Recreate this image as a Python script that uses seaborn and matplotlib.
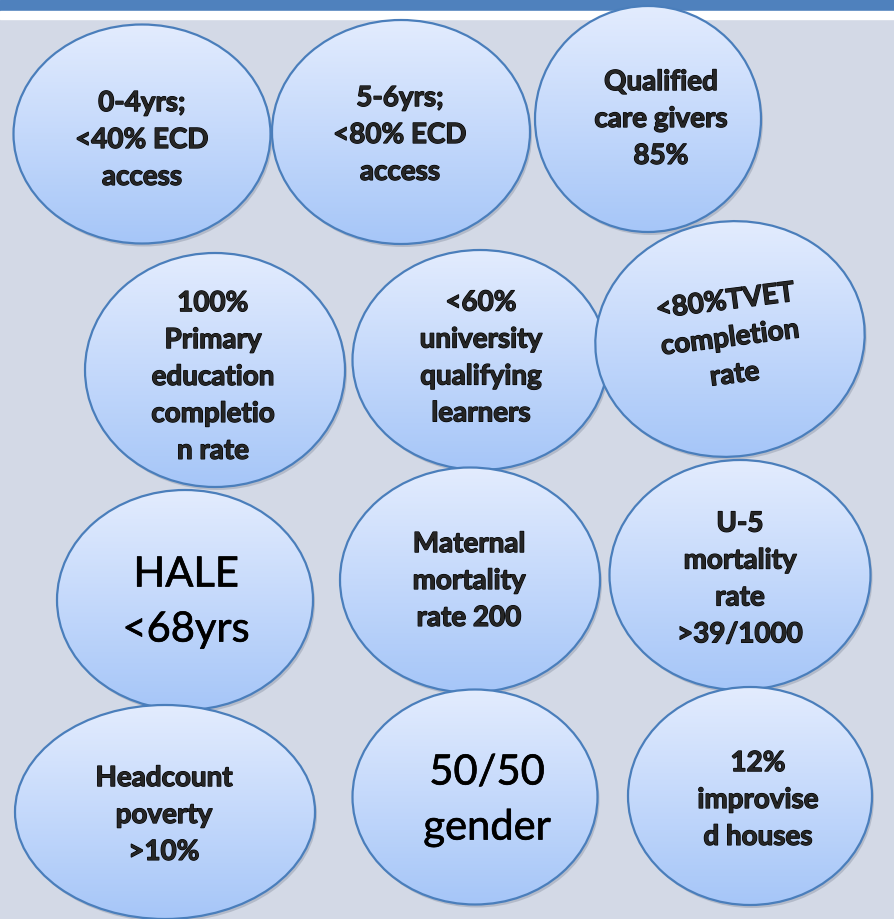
import numpy as np
import seaborn as sns
import matplotlib.pyplot as plt
import matplotlib.patheffects as pe
from matplotlib.patches import Ellipse, Rectangle

# targets shown in each bubble
labels = [
    '0-4yrs;\n<40% ECD\naccess',
    '5-6yrs;\n<80% ECD\naccess',
    'Qualified\ncare givers\n85%',
    '100%\nPrimary\neducation\ncompletio\nn rate',
    '<60%\nuniversity\nqualifying\nlearners',
    '<80%TVET\ncompletion\nrate',
    'HALE\n<68yrs',
    'Maternal\nmortality\nrate 200',
    'U-5\nmortality\nrate\n>39/1000',
    'Headcount\npoverty\n>10%',
    '50/50\ngender',
    '12%\nimprovise\nd houses',
]
bold = [True, True, True, True, True, True, False, True, True, True, False, True]

# layout (pixels, y down): bubble centre, size, tilt and text centre
cx = [142, 401, 648, 215, 480, 730, 185, 470, 740, 165, 475, 750]
cy = [134, 132, 119, 370, 360, 339, 600, 580, 575, 812, 797, 796]
ew = [257, 258, 226, 260, 255, 270, 256, 260, 261, 300, 245, 244]
eh = [219, 224, 226, 234, 220, 235, 220, 225, 230, 214, 215, 218]
tilt = [0, 0, 0, 0, 0, -8, 0, 0, 0, 0, 0, 0]
tx = [142, 400, 661, 213, 481, 730, 186, 469, 740, 164, 487, 758]
ty = [140, 135, 119, 377, 358, 338, 602, 581, 579, 815, 800, 800]

W, H = 895, 919
sns.set_style('white')
plt.rcParams['font.family'] = ['Lato', 'DejaVu Sans']

fig = plt.figure(figsize=(W / 100, H / 100), dpi=100)
ax = fig.add_axes([0, 0, 1, 1])
ax.set_xlim(0, W)
ax.set_ylim(H, 0)
ax.axis('off')

ax.add_patch(Rectangle((0, 0), W, H, color='#D3D9E6', zorder=0))
ax.add_patch(Rectangle((0, 0), W, 11, color='#4F81BD', zorder=0.5))
ax.add_patch(Rectangle((0, 11), W, 8, color='white', zorder=0.5))

top = np.array([0xE3, 0xEC, 0xFE]) / 255
bot = np.array([0xA6, 0xC6, 0xF8]) / 255
grad = np.linspace(0, 1, 256)[:, None, None]
grad_img = top * (1 - grad) + bot * grad
thick = [pe.withStroke(linewidth=0.9, foreground='black')]
thin = [pe.withStroke(linewidth=0.5, foreground='black')]

for i, lab in enumerate(labels):
    z = 1 + i
    # soft shadow
    ax.add_patch(Ellipse((cx[i] + 2, cy[i] + 3), ew[i], eh[i], angle=tilt[i],
                         color='#8E96A6', alpha=0.45, lw=0, zorder=z))
    e = Ellipse((cx[i], cy[i]), ew[i], eh[i], angle=tilt[i],
                facecolor='none', edgecolor='#4A7EBB', lw=1.6, zorder=z + 0.2)
    ax.add_patch(e)
    r = max(ew[i], eh[i]) / 2 + 4
    im = ax.imshow(grad_img, extent=(cx[i] - r, cx[i] + r, cy[i] + eh[i] / 2, cy[i] - eh[i] / 2),
                   aspect='auto', zorder=z + 0.1, interpolation='bilinear')
    im.set_clip_path(e)
    if bold[i]:
        ax.text(tx[i], ty[i], lab, ha='center', va='center', fontsize=20,
                fontweight='bold', linespacing=1.52, rotation=-tilt[i] * 0.9,
                path_effects=thick, zorder=z + 0.3)
    else:
        ax.text(tx[i], ty[i], lab, ha='center', va='center', fontsize=30,
                linespacing=1.55, color='black', path_effects=thin, zorder=z + 0.3)

fig.savefig('out.png', dpi=100)
